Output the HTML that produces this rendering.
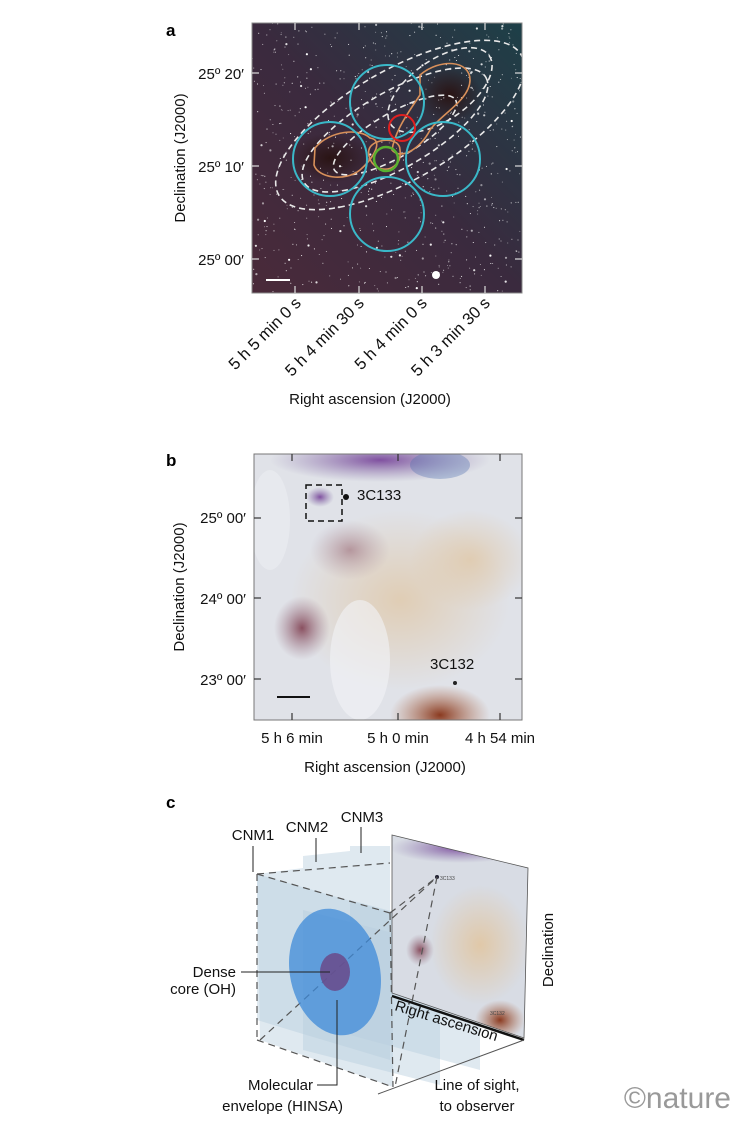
<!DOCTYPE html>
<html><head><meta charset="utf-8"><style>
html,body{margin:0;padding:0;background:#fff;}
body{width:751px;height:1130px;position:relative;overflow:hidden;font-family:"Liberation Sans",sans-serif;}
svg{position:absolute;left:0;top:0;}
</style></head><body>
<svg width="751" height="1130" viewBox="0 0 751 1130" xmlns="http://www.w3.org/2000/svg" font-family="Liberation Sans, sans-serif">
<defs>
<linearGradient id="ga" x1="0" y1="1" x2="1" y2="0">
<stop offset="0" stop-color="#4a2a3a"/><stop offset="0.5" stop-color="#3a2a3e"/><stop offset="1" stop-color="#1d4048"/>
</linearGradient>
<radialGradient id="gb1" cx="0.5" cy="0.5" r="0.5"><stop offset="0" stop-color="#e0c8a8"/><stop offset="1" stop-color="#e0c8a8" stop-opacity="0"/></radialGradient>
<radialGradient id="gbrown" cx="0.5" cy="0.5" r="0.5"><stop offset="0" stop-color="#8a5060"/><stop offset="1" stop-color="#a08090" stop-opacity="0"/></radialGradient>
<radialGradient id="gred" cx="0.5" cy="0.5" r="0.5"><stop offset="0" stop-color="#8a3a20"/><stop offset="1" stop-color="#b07050" stop-opacity="0"/></radialGradient>
<radialGradient id="gpur" cx="0.5" cy="0.5" r="0.5"><stop offset="0" stop-color="#8050a0"/><stop offset="1" stop-color="#9080b0" stop-opacity="0"/></radialGradient>
<radialGradient id="gdark" cx="0.5" cy="0.5" r="0.5"><stop offset="0" stop-color="#2a1414"/><stop offset="1" stop-color="#2a1414" stop-opacity="0"/></radialGradient>
<clipPath id="ca"><rect x="252" y="23" width="270" height="270"/></clipPath>
<clipPath id="cb"><rect x="254" y="454" width="268" height="266"/></clipPath>
<clipPath id="cc"><polygon points="392,835 528,868 524,1038 392,993"/></clipPath>
</defs>

<!-- Panel a -->
<text x="166" y="36" font-size="17" font-weight="bold">a</text>
<g clip-path="url(#ca)">
<rect x="252" y="23" width="270" height="270" fill="url(#ga)"/>
<ellipse cx="330" cy="158" rx="40" ry="25" fill="url(#gdark)"/>
<ellipse cx="450" cy="95" rx="32" ry="28" fill="url(#gdark)"/>
<g id="stars" fill="#fff"></g>
<g fill="none" stroke="#e8e8e8" stroke-width="1.6" stroke-dasharray="6,4">
<ellipse cx="400" cy="125" rx="140" ry="55" transform="rotate(-30 400 125)"/>
<ellipse cx="395" cy="130" rx="105" ry="38" transform="rotate(-30 395 130)"/>
<ellipse cx="395" cy="135" rx="70" ry="22" transform="rotate(-30 395 135)"/>
<ellipse cx="440" cy="90" rx="60" ry="30" transform="rotate(-35 440 90)"/>
</g>
<g fill="none" stroke="#d8905a" stroke-width="1.6">
<path d="M315,148 C330,130 360,128 370,138 C385,140 372,160 360,170 C345,182 318,178 314,165 Z"/>
<path d="M420,75 C440,58 470,60 470,80 C470,100 440,115 430,130 C420,150 400,160 392,150 C395,130 410,110 420,95 Z"/>
<path d="M372,145 C380,138 400,138 400,150 C402,165 390,172 378,168 C368,162 366,150 372,145 Z"/>
</g>
<g fill="none" stroke="#3ab8c8" stroke-width="2">
<circle cx="387" cy="102" r="37"/>
<circle cx="330" cy="159" r="37"/>
<circle cx="443" cy="159" r="37"/>
<circle cx="387" cy="214" r="37"/>
</g>
<circle cx="402" cy="128" r="13" fill="none" stroke="#e02020" stroke-width="2"/>
<circle cx="386" cy="159" r="12" fill="none" stroke="#58b030" stroke-width="2.5"/>
<circle cx="436" cy="275" r="4" fill="#fff"/>
<line x1="266" y1="280" x2="290" y2="280" stroke="#fff" stroke-width="2"/>
</g>
<rect x="252" y="23" width="270" height="270" fill="none" stroke="#888" stroke-width="1"/>
<g stroke="#ddd" stroke-width="1.2">
<line x1="295" y1="23" x2="295" y2="30"/><line x1="359" y1="23" x2="359" y2="30"/><line x1="422" y1="23" x2="422" y2="30"/><line x1="485" y1="23" x2="485" y2="30"/>
<line x1="295" y1="286" x2="295" y2="293"/><line x1="359" y1="286" x2="359" y2="293"/><line x1="422" y1="286" x2="422" y2="293"/><line x1="485" y1="286" x2="485" y2="293"/>
<line x1="252" y1="73" x2="259" y2="73"/><line x1="252" y1="166" x2="259" y2="166"/><line x1="252" y1="259" x2="259" y2="259"/>
<line x1="515" y1="73" x2="522" y2="73"/><line x1="515" y1="166" x2="522" y2="166"/><line x1="515" y1="259" x2="522" y2="259"/>
</g>
<g font-size="15" fill="#111">
<text x="244" y="79" text-anchor="end">25º 20′</text>
<text x="244" y="172" text-anchor="end">25º 10′</text>
<text x="244" y="265" text-anchor="end">25º 00′</text>
<text transform="translate(185 158) rotate(-90)" text-anchor="middle">Declination (J2000)</text>
<g font-size="16.5">
<text transform="translate(302 304) rotate(-45)" text-anchor="end">5 h 5 min 0 s</text>
<text transform="translate(365 304) rotate(-45)" text-anchor="end">5 h 4 min 30 s</text>
<text transform="translate(428 304) rotate(-45)" text-anchor="end">5 h 4 min 0 s</text>
<text transform="translate(491 304) rotate(-45)" text-anchor="end">5 h 3 min 30 s</text>
</g>
<text x="370" y="404" text-anchor="middle">Right ascension (J2000)</text>
</g>

<!-- Panel b -->
<text x="166" y="466" font-size="17" font-weight="bold">b</text>
<g clip-path="url(#cb)">
<rect x="254" y="454" width="268" height="266" fill="#e0e2e8"/>
<ellipse cx="400" cy="600" rx="110" ry="90" fill="url(#gb1)" opacity="0.8"/>
<ellipse cx="470" cy="560" rx="60" ry="50" fill="url(#gb1)" opacity="0.8"/>
<ellipse cx="302" cy="628" rx="28" ry="32" fill="url(#gbrown)"/>
<ellipse cx="350" cy="550" rx="40" ry="30" fill="url(#gbrown)" opacity="0.5"/>
<ellipse cx="440" cy="715" rx="50" ry="30" fill="url(#gred)"/>
<ellipse cx="380" cy="460" rx="110" ry="22" fill="url(#gpur)"/>
<ellipse cx="320" cy="497" rx="14" ry="10" fill="url(#gpur)"/>
<ellipse cx="440" cy="465" rx="30" ry="14" fill="#5070b0" opacity="0.35"/>
<ellipse cx="360" cy="660" rx="30" ry="60" fill="#f2f3f6" opacity="0.6"/>
<ellipse cx="270" cy="520" rx="20" ry="50" fill="#eef0f4" opacity="0.5"/>
</g>
<rect x="254" y="454" width="268" height="266" fill="none" stroke="#777" stroke-width="1"/>
<rect x="306" y="485" width="36" height="36" fill="none" stroke="#111" stroke-width="1.5" stroke-dasharray="6,4"/>
<circle cx="346" cy="497" r="3" fill="#111"/>
<circle cx="455" cy="683" r="2" fill="#222"/>
<line x1="277" y1="697" x2="310" y2="697" stroke="#111" stroke-width="2"/>
<g stroke="#333" stroke-width="1.2">
<line x1="254" y1="518" x2="261" y2="518"/><line x1="254" y1="598" x2="261" y2="598"/><line x1="254" y1="679" x2="261" y2="679"/>
<line x1="515" y1="518" x2="522" y2="518"/><line x1="515" y1="598" x2="522" y2="598"/><line x1="515" y1="679" x2="522" y2="679"/>
<line x1="292" y1="713" x2="292" y2="720"/><line x1="398" y1="713" x2="398" y2="720"/><line x1="500" y1="713" x2="500" y2="720"/>
<line x1="292" y1="454" x2="292" y2="461"/><line x1="398" y1="454" x2="398" y2="461"/><line x1="500" y1="454" x2="500" y2="461"/>
</g>
<g font-size="15" fill="#111">
<text x="357" y="500">3C133</text>
<text x="430" y="669">3C132</text>
<text x="246" y="523" text-anchor="end">25º 00′</text>
<text x="246" y="604" text-anchor="end">24º 00′</text>
<text x="246" y="685" text-anchor="end">23º 00′</text>
<text transform="translate(184 587) rotate(-90)" text-anchor="middle">Declination (J2000)</text>
<text x="292" y="743" text-anchor="middle">5 h 6 min</text>
<text x="398" y="743" text-anchor="middle">5 h 0 min</text>
<text x="500" y="743" text-anchor="middle">4 h 54 min</text>
<text x="385" y="772" text-anchor="middle">Right ascension (J2000)</text>
</g>

<!-- Panel c -->
<text x="166" y="808" font-size="17" font-weight="bold">c</text>
<g fill="#b8cede" fill-opacity="0.45" stroke="none">
<polygon points="350,846 390,846 390,1060 350,1048"/>
<polygon points="303,856 350,851 350,1048 303,1034"/>
<polygon points="257,874 303,868 303,1034 257,1020"/>
<polygon points="257,874 393,913 393,1087 260,1040"/>
<polygon points="303,910 440,945 440,1085 303,1050"/>
<polygon points="350,900 480,935 480,1070 350,1035"/>
</g>
<g clip-path="url(#cc)">
<rect x="390" y="835" width="140" height="205" fill="#d8dce4"/>
<ellipse cx="480" cy="945" rx="50" ry="60" fill="url(#gb1)"/>
<ellipse cx="420" cy="950" rx="14" ry="16" fill="url(#gbrown)"/>
<ellipse cx="460" cy="848" rx="70" ry="15" fill="url(#gpur)"/>
<ellipse cx="500" cy="1020" rx="25" ry="20" fill="url(#gred)"/>
</g>
<polygon points="392,835 528,868 524,1038 392,993" fill="none" stroke="#555" stroke-width="0.8"/>
<line x1="392" y1="996" x2="524" y2="1040" stroke="#111" stroke-width="2.5"/>
<circle cx="437" cy="877" r="2" fill="#223"/>
<text x="440" y="880" font-size="5" fill="#444">3C133</text>
<text x="490" y="1015" font-size="5" fill="#444">3C132</text>
<g fill="none" stroke="#555" stroke-width="1.2" stroke-dasharray="7,5">
<line x1="257" y1="874" x2="257" y2="1040"/>
<line x1="257" y1="874" x2="390" y2="863"/>
<line x1="257" y1="874" x2="390" y2="913"/>
<line x1="257" y1="1040" x2="393" y2="1087"/>
<line x1="390" y1="913" x2="393" y2="1087"/>
<line x1="390" y1="913" x2="437" y2="877"/>
<line x1="260" y1="1040" x2="437" y2="877"/>
<line x1="437" y1="877" x2="395" y2="1087"/>
</g>
<line x1="524" y1="1040" x2="378" y2="1094" stroke="#555" stroke-width="1"/>
<ellipse cx="335" cy="972" rx="45" ry="64" fill="#3d8ad8" fill-opacity="0.75" transform="rotate(-12 335 972)"/>
<ellipse cx="335" cy="972" rx="15" ry="19" fill="#6a4a8a" fill-opacity="0.85"/>
<g stroke="#222" stroke-width="1" fill="none">
<line x1="241" y1="972" x2="330" y2="972"/>
<polyline points="337,1000 337,1085 317,1085"/>
<line x1="253" y1="846" x2="253" y2="872"/>
<line x1="316" y1="838" x2="316" y2="862"/>
<line x1="361" y1="827" x2="361" y2="853"/>
</g>
<g font-size="15" fill="#111">
<text x="253" y="840" text-anchor="middle">CNM1</text>
<text x="307" y="832" text-anchor="middle">CNM2</text>
<text x="362" y="822" text-anchor="middle">CNM3</text>
<text x="236" y="977" text-anchor="end">Dense</text>
<text x="236" y="994" text-anchor="end">core (OH)</text>
<text x="313" y="1090" text-anchor="end">Molecular</text>
<text x="343" y="1111" text-anchor="end">envelope (HINSA)</text>
<text transform="translate(394 1010) rotate(17)">Right ascension</text>
<text transform="translate(553 950) rotate(-90)" text-anchor="middle">Declination</text>
<text x="477" y="1090" text-anchor="middle">Line of sight,</text>
<text x="477" y="1111" text-anchor="middle">to observer</text>
</g>
<text x="731" y="1108" font-size="30" fill="#999" text-anchor="end">©nature</text>
</svg>
<script>
(function(){var g=document.getElementById('stars');var s=7;function r(){s=(s*16807)%2147483647;return s/2147483647;}
var h='';for(var i=0;i<700;i++){var x=252+r()*270,y=23+r()*270,rr=r()<0.9?0.55:1.1;h+='<circle cx="'+x.toFixed(1)+'" cy="'+y.toFixed(1)+'" r="'+rr+'" opacity="'+(0.4+r()*0.6).toFixed(2)+'"/>';}
g.innerHTML=h;})();
</script>
</body></html>
